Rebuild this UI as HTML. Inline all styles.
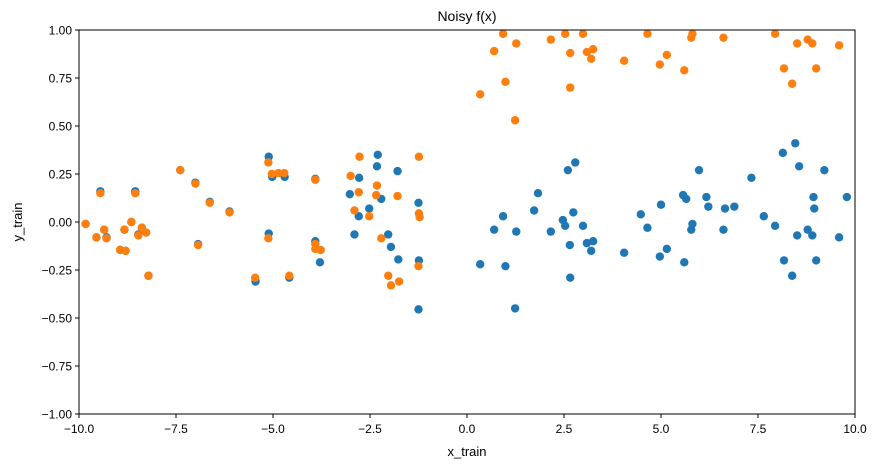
<!DOCTYPE html>
<html><head><meta charset="utf-8"><style>
body{margin:0;background:#fff;}
svg text{font-family:"Liberation Sans",sans-serif;fill:#000;}
</style></head><body>
<svg width="882" height="468" viewBox="0 0 882 468" xmlns="http://www.w3.org/2000/svg">
<rect width="882" height="468" fill="#fff"/>
<g id="marks"></g>
<g id="axes"></g>
</svg>
<script>
const xTicks=[-10,-7.5,-5,-2.5,0,2.5,5,7.5,10];
const xTickLabels=["\u221210.0","\u22127.5","\u22125.0","\u22122.5","0.0","2.5","5.0","7.5","10.0"];
const yTicks=[-1,-0.75,-0.5,-0.25,0,0.25,0.5,0.75,1];
const yTickLabels=["\u22121.00","\u22120.75","\u22120.50","\u22120.25","0.00","0.25","0.50","0.75","1.00"];
const blueX=[0.34,0.70,0.93,0.99,1.24,1.27,1.73,1.83,2.16,2.47,2.53,2.60,2.65,2.66,2.74,2.79,2.99,3.09,3.20,3.25,4.05,4.48,4.65,4.97,5.00,5.15,5.57,5.60,5.65,5.78,5.81,5.98,6.17,6.22,6.61,6.65,6.89,7.33,7.65,7.94,8.14,8.17,8.38,8.46,8.51,8.56,8.78,8.90,8.93,8.95,9.00,9.21,9.59,9.79,
-9.83,-9.55,-9.45,-9.35,-9.29,-8.94,-8.80,-8.83,-8.65,-8.55,-8.47,-8.38,-8.27,-8.21,-7.39,-7.00,-6.93,-6.63,-6.12,
-5.45,-5.11,-5.11,-5.02,-4.70,-4.58,-3.91,-3.91,-3.79,-3.02,-2.78,-2.79,-2.90,-2.52,-2.32,-2.30,-2.21,-1.79,-2.03,-1.96,-1.77,-1.25,-1.24,-1.25];
const blueY=[-0.22,-0.04,0.03,-0.23,-0.45,-0.05,0.06,0.15,-0.05,0.01,-0.02,0.27,-0.12,-0.29,0.05,0.31,-0.02,-0.11,-0.15,-0.10,-0.16,0.04,-0.03,-0.18,0.09,-0.14,0.14,-0.21,0.12,-0.04,-0.01,0.27,0.13,0.08,-0.04,0.07,0.08,0.23,0.03,-0.02,0.36,-0.20,-0.28,0.41,-0.07,0.29,-0.04,-0.07,0.13,0.07,-0.20,0.27,-0.08,0.13,
-0.01,-0.08,0.16,-0.04,-0.08,-0.145,-0.15,-0.04,0.00,0.16,-0.065,-0.03,-0.055,-0.28,0.27,0.205,-0.115,0.105,0.055,
-0.31,-0.06,0.34,0.235,0.235,-0.29,-0.10,0.225,-0.21,0.145,0.23,0.03,-0.065,0.07,0.29,0.35,0.12,0.265,-0.065,-0.13,-0.195,0.10,-0.20,-0.455];
const orangeX=[0.34,0.70,0.93,0.99,1.24,1.27,2.16,2.53,2.66,2.66,2.99,3.09,3.25,3.20,4.05,4.65,4.97,5.15,5.60,5.78,5.81,6.61,7.94,8.17,8.38,8.51,8.78,8.90,9.00,9.59,
-9.83,-9.55,-9.45,-9.35,-9.29,-8.94,-8.80,-8.83,-8.65,-8.55,-8.47,-8.38,-8.27,-8.21,-7.39,-7.00,-6.93,-6.63,-6.12,-5.46,-5.12,-5.12,-5.03,-4.86,-4.71,-4.58,-3.91,-3.91,-3.91,-3.77,-3.00,-2.77,-2.79,-2.90,-2.52,-2.32,-2.34,-2.21,-1.79,-2.03,-1.96,-1.75,-1.24,-1.24,-1.22,-1.25];
const orangeY=[0.665,0.89,0.98,0.73,0.53,0.93,0.95,0.98,0.88,0.70,0.98,0.885,0.90,0.85,0.84,0.98,0.82,0.87,0.79,0.96,0.98,0.96,0.98,0.80,0.72,0.93,0.95,0.93,0.80,0.92,
-0.01,-0.08,0.15,-0.04,-0.085,-0.146,-0.15,-0.04,0.00,0.15,-0.07,-0.03,-0.055,-0.28,0.27,0.20,-0.12,0.10,0.05,-0.29,0.31,-0.085,0.25,0.255,0.255,-0.28,0.22,-0.115,-0.14,-0.146,0.24,0.34,0.155,0.06,0.03,0.19,0.14,-0.085,0.135,-0.28,-0.33,-0.31,0.34,0.045,0.025,-0.23];

const L=79,R=855,T=30,B=414;
const sx=v=>L+(v+10)/20*(R-L);
const sy=v=>B-(v+1)/2*(B-T);
const NS="http://www.w3.org/2000/svg";
const marks=document.getElementById('marks'),axes=document.getElementById('axes');
function mk(tag,attrs,parent){const e=document.createElementNS(NS,tag);for(const k in attrs)e.setAttribute(k,attrs[k]);parent.appendChild(e);return e;}
const clip=mk('clipPath',{id:'pc'},marks);mk('rect',{x:L,y:T,width:R-L,height:B-T},clip);
const g=mk('g',{'clip-path':'url(#pc)'},marks);
blueX.forEach((x,i)=>{const c=mk('circle',{cx:sx(x),cy:sy(blueY[i]),r:4.2,fill:'#1f77b4'},g);

});
orangeX.forEach((x,i)=>{const c=mk('circle',{cx:sx(x),cy:sy(orangeY[i]),r:4.2,fill:'#ff7f0e'},g);

});
const frame=mk('rect',{x:L,y:T,width:R-L,height:B-T,fill:'none',stroke:'#000','stroke-width':1},axes);


xTicks.forEach((v,i)=>{mk('line',{x1:sx(v),x2:sx(v),y1:B,y2:B+4,stroke:'#000'},axes);
const t=mk('text',{x:sx(v),y:B+19,'font-size':12,'text-anchor':'middle'},axes);t.textContent=xTickLabels[i];

});
yTicks.forEach((v,i)=>{mk('line',{x1:L-4,x2:L,y1:sy(v),y2:sy(v),stroke:'#000'},axes);
const t=mk('text',{x:L-7,y:sy(v)+4.5,'font-size':12,'text-anchor':'end'},axes);t.textContent=yTickLabels[i];

});
const tt=mk('text',{x:(L+R)/2,y:21,'font-size':14,'text-anchor':'middle'},axes);tt.textContent='Noisy f(x)';


const xl=mk('text',{x:(L+R)/2,y:456,'font-size':13,'text-anchor':'middle'},axes);xl.textContent='x_train';


const yl=mk('text',{x:0,y:0,'font-size':13,'text-anchor':'middle',transform:'translate(22,'+((T+B)/2)+') rotate(-90)'},axes);yl.textContent='y_train';


</script>
</body></html>
